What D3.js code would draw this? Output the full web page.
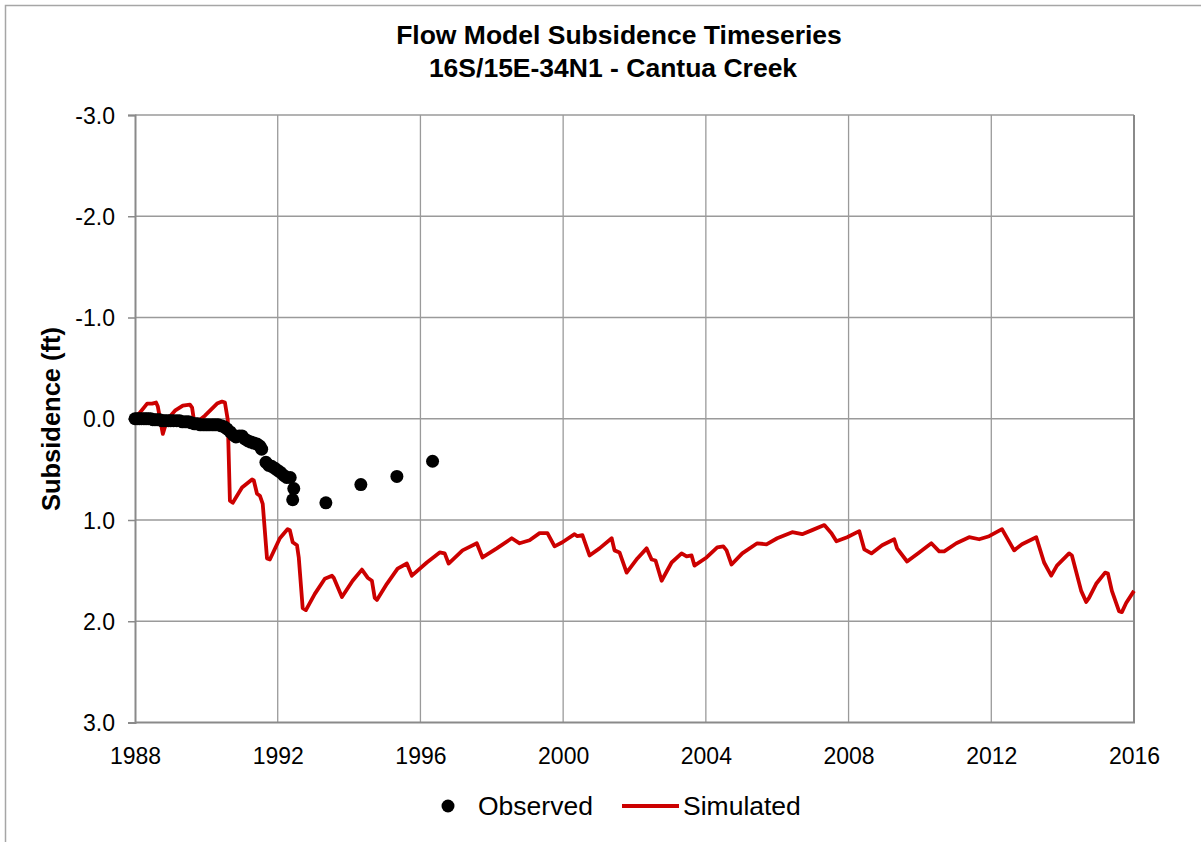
<!DOCTYPE html>
<html>
<head>
<meta charset="utf-8">
<script src="https://cdn.jsdelivr.net/npm/d3@7"></script>
<style>
  body { margin: 0; background: #fff; }
  text { font-family: "Liberation Sans", Arial, sans-serif; fill: #000; }
</style>
</head>
<body>
<div id="graph"></div>
<script>
// observed subsidence (decimal year, ft)
var obsYears = [1988.00,1988.06,1988.12,1988.18,1988.25,1988.31,1988.37,1988.44,1988.50,1988.56,1988.62,1988.69,
  1988.75,1988.81,1988.87,1988.94,1989.00,1989.08,1989.17,1989.25,1989.33,1989.42,1989.50,1989.58,1989.67,1989.75,
  1989.83,1989.92,1990.00,1990.08,1990.17,1990.25,1990.33,1990.42,1990.50,1990.58,1990.67,1990.75,1990.83,1990.92,
  1991.00,1991.08,1991.17,1991.25,1991.33,1991.42,1991.50,1991.55,1991.67,1991.75,1991.83,1991.92,1992.00,1992.08,
  1992.17,1992.25,1992.35,1992.45,1992.42,1993.35,1994.33,1995.34,1996.34]
var obsValues = [0.00,0.00,0.00,0.00,0.00,0.00,0.00,0.00,0.01,0.01,0.01,0.01,
  0.02,0.02,0.02,0.02,0.02,0.02,0.02,0.02,0.03,0.03,0.03,0.04,0.05,0.05,
  0.06,0.06,0.06,0.06,0.06,0.06,0.06,0.07,0.08,0.10,0.13,0.16,0.18,0.17,
  0.17,0.20,0.22,0.23,0.24,0.25,0.27,0.30,0.43,0.46,0.47,0.49,0.51,0.53,
  0.56,0.58,0.58,0.69,0.80,0.83,0.65,0.57,0.42]

// simulated subsidence (decimal year, ft)
var simYears = [1988.00,1988.34,1988.48,1988.59,1988.64,1988.78,1988.90,1989.12,1989.34,1989.54,1989.60,1989.65,
  1989.82,1989.96,1990.30,1990.44,1990.52,1990.60,1990.66,1990.74,1991.00,1991.28,1991.33,1991.42,1991.50,1991.58,
  1991.70,1991.78,1992.06,1992.28,1992.34,1992.42,1992.54,1992.59,1992.70,1992.79,1993.04,1993.32,1993.52,1993.57,
  1993.80,1994.10,1994.36,1994.52,1994.64,1994.72,1994.78,1995.06,1995.36,1995.62,1995.76,1996.18,1996.54,1996.68,
  1996.79,1997.18,1997.58,1997.74,1998.14,1998.56,1998.78,1999.06,1999.34,1999.56,1999.76,1999.98,2000.32,2000.40,
  2000.54,2000.74,2001.02,2001.36,2001.44,2001.58,2001.78,2002.08,2002.34,2002.48,2002.59,2002.76,2003.04,2003.32,
  2003.46,2003.60,2003.68,2004.02,2004.32,2004.49,2004.58,2004.72,2005.02,2005.44,2005.70,2006.00,2006.42,2006.70,
  2006.98,2007.32,2007.52,2007.66,2007.96,2008.30,2008.44,2008.64,2008.94,2009.28,2009.36,2009.64,2009.98,2010.32,
  2010.54,2010.68,2011.02,2011.38,2011.66,2011.94,2012.30,2012.64,2012.86,2013.26,2013.48,2013.68,2013.84,2014.18,
  2014.26,2014.52,2014.66,2014.74,2014.94,2015.19,2015.27,2015.38,2015.58,2015.66,2015.78,2016.00]
var simValues = [0.00,-0.15,-0.15,-0.16,-0.12,0.15,0.01,-0.08,-0.13,-0.14,-0.11,0.01,
  0.01,-0.03,-0.15,-0.17,-0.16,0.01,0.81,0.83,0.68,0.60,0.61,0.74,0.76,0.84,
  1.38,1.39,1.18,1.09,1.10,1.22,1.25,1.37,1.87,1.89,1.73,1.58,1.55,1.57,
  1.76,1.60,1.49,1.57,1.60,1.77,1.79,1.63,1.48,1.43,1.55,1.42,1.32,1.33,
  1.43,1.30,1.23,1.37,1.28,1.18,1.23,1.20,1.13,1.13,1.26,1.22,1.14,1.16,
  1.15,1.35,1.28,1.18,1.30,1.32,1.52,1.38,1.28,1.39,1.40,1.60,1.42,1.33,
  1.36,1.35,1.45,1.37,1.27,1.26,1.30,1.44,1.33,1.23,1.24,1.18,1.12,1.14,
  1.10,1.05,1.13,1.21,1.17,1.11,1.29,1.33,1.25,1.19,1.28,1.41,1.32,1.23,
  1.31,1.31,1.23,1.17,1.19,1.16,1.09,1.30,1.24,1.17,1.42,1.55,1.45,1.33,
  1.35,1.70,1.81,1.77,1.63,1.52,1.53,1.70,1.90,1.91,1.82,1.70]

var xTicks = [1988, 1992, 1996, 2000, 2004, 2008, 2012, 2016]
var yTicks = [-3, -2, -1, 0, 1, 2, 3]

var observed = obsYears.map((d, i) => ({year: d, value: obsValues[i]}))
var simulated = simYears.map((d, i) => ({year: d, value: simValues[i]}))

var W = 1201, H = 842
var m = {left: 135, top: 115, right: 1134, bottom: 722.5}
var font = '"Liberation Sans", Arial, sans-serif'

var svg = d3.select('#graph').append('svg').attr('width', W).attr('height', H)

// outer chart frame (runs off the right / bottom edge)
svg.append('rect')
  .attr('x', 5.5).attr('y', 5.5).attr('width', 1210).attr('height', 860)
  .attr('fill', 'none').attr('stroke', '#a6a6a6').attr('stroke-width', 1.5)

var x = d3.scaleLinear().domain([1988, 2016]).range([m.left, m.right])
var y = d3.scaleLinear().domain([-3, 3]).range([m.top, m.bottom])

// grid
svg.append('g').selectAll('line').data(xTicks.slice(1, -1)).join('line')
  .attr('x1', d => x(d)).attr('x2', d => x(d)).attr('y1', m.top).attr('y2', m.bottom)
  .attr('stroke', '#9a9a9a').attr('stroke-width', 1.3)
svg.append('g').selectAll('line').data(yTicks.slice(0, -1)).join('line')
  .attr('x1', m.left).attr('x2', m.right).attr('y1', d => y(d)).attr('y2', d => y(d))
  .attr('stroke', '#9a9a9a').attr('stroke-width', 1.3)

// plot border: right and bottom
svg.append('path')
  .attr('d', `M${m.right},${m.top}V${m.bottom}H${m.left}`)
  .attr('fill', 'none').attr('stroke', '#8a8a8a').attr('stroke-width', 2)

// y axis (plain hyphen for negatives, like the original)
var yAxis = d3.axisLeft(y).tickValues(yTicks).tickFormat(d => d.toFixed(1)).tickSize(7).tickPadding(13)
var yg = svg.append('g').attr('transform', `translate(${m.left},0)`).call(yAxis)
yg.select('.domain').attr('stroke', '#8a8a8a').attr('stroke-width', 2)
yg.selectAll('.tick line').attr('stroke', '#8a8a8a').attr('stroke-width', 1.5)
yg.selectAll('text').attr('font-size', 23).attr('font-family', font).attr('dy', '0.35em')

// x axis
var xAxis = d3.axisBottom(x).tickValues(xTicks).tickFormat(d3.format('d')).tickSize(0).tickPadding(25)
var xg = svg.append('g').attr('transform', `translate(0,${m.bottom})`).call(xAxis)
xg.select('.domain').remove()
xg.selectAll('text').attr('font-size', 23).attr('font-family', font)

// simulated line
var line = d3.line().x(d => x(d.year)).y(d => y(d.value))
svg.append('path').datum(simulated)
  .attr('d', line)
  .attr('fill', 'none').attr('stroke', '#cc0000').attr('stroke-width', 3.8)
  .attr('stroke-linejoin', 'round')

// observed points
svg.append('g').selectAll('circle').data(observed).join('circle')
  .attr('cx', d => x(d.year)).attr('cy', d => y(d.value)).attr('r', 6.5)
  .attr('fill', '#000')

// titles
svg.append('text').attr('x', 619).attr('y', 44).attr('text-anchor', 'middle')
  .attr('font-size', 26.5).attr('font-weight', 'bold').text('Flow Model Subsidence Timeseries')
svg.append('text').attr('x', 613).attr('y', 77).attr('text-anchor', 'middle')
  .attr('font-size', 26.5).attr('font-weight', 'bold').text('16S/15E-34N1 - Cantua Creek')

svg.append('text')
  .attr('transform', 'translate(60,419) rotate(-90)')
  .attr('text-anchor', 'middle').attr('font-size', 25.5).attr('font-weight', 'bold')
  .text('Subsidence (ft)')

// legend
var lg = svg.append('g')
lg.append('circle').attr('cx', 448).attr('cy', 806).attr('r', 6.5).attr('fill', '#000')
lg.append('text').attr('x', 478).attr('y', 815).attr('font-size', 26.5).text('Observed')
lg.append('line').attr('x1', 622).attr('x2', 679).attr('y1', 806).attr('y2', 806)
  .attr('stroke', '#cc0000').attr('stroke-width', 3.8)
lg.append('text').attr('x', 683).attr('y', 815).attr('font-size', 26.5).text('Simulated')
</script>
</body>
</html>
